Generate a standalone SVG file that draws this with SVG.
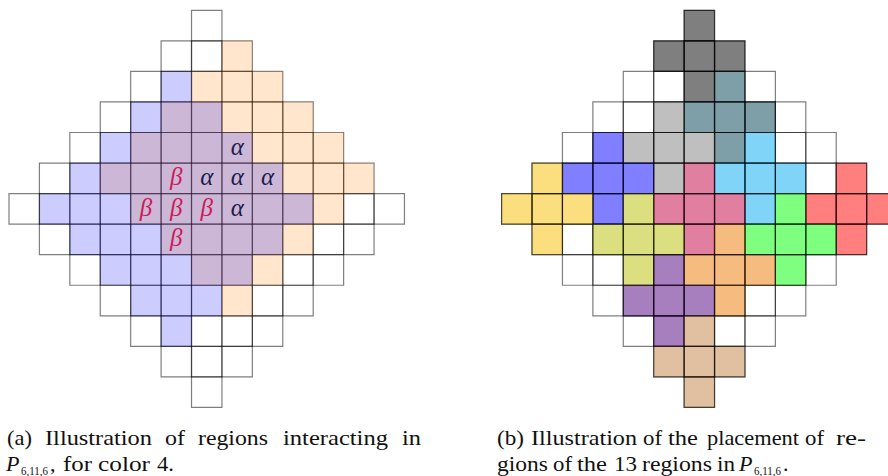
<svg xmlns="http://www.w3.org/2000/svg" xmlns:xlink="http://www.w3.org/1999/xlink" width="888" height="476" viewBox="0 0 888 476">
<style>
.cap{font-family:"Liberation Serif",serif;font-size:22px;fill:#111}
.it{font-style:italic}
.sub{font-family:"Liberation Serif",serif;font-size:13px;fill:#111}
.gr{font-family:"Liberation Serif",serif;font-style:italic;font-size:25px;text-anchor:middle}
.al{fill:#1c1c4e}
.be{fill:#cc1a5a}
</style>
<defs>
<rect id="c" width="1" height="1" fill="none" stroke="#000" stroke-opacity="0.5" stroke-width="1.2" vector-effect="non-scaling-stroke"/>
<g id="w0"><use href="#c" x="6"/></g>
<g id="w1"><use href="#w0"/><use href="#c" x="5"/><use href="#c" x="7"/></g>
<g id="w2"><use href="#w1"/><use href="#c" x="4"/><use href="#c" x="8"/></g>
<g id="w3"><use href="#w2"/><use href="#c" x="3"/><use href="#c" x="9"/></g>
<g id="w4"><use href="#w3"/><use href="#c" x="2"/><use href="#c" x="10"/></g>
<g id="w5"><use href="#w4"/><use href="#c" x="1"/><use href="#c" x="11"/></g>
<g id="w6"><use href="#w5"/><use href="#c" x="0"/><use href="#c" x="12"/></g>
<g id="grid">
<use href="#w0" y="0"/><use href="#w1" y="1"/><use href="#w2" y="2"/><use href="#w3" y="3"/><use href="#w4" y="4"/><use href="#w5" y="5"/><use href="#w6" y="6"/><use href="#w5" y="7"/><use href="#w4" y="8"/><use href="#w3" y="9"/><use href="#w2" y="10"/><use href="#w1" y="11"/><use href="#w0" y="12"/>
</g>
<polygon id="d4" points="0,-4 1,-4 1,-3 2,-3 2,-2 3,-2 3,-1 4,-1 4,0 5,0 5,1 4,1 4,2 3,2 3,3 2,3 2,4 1,4 1,5 0,5 0,4 -1,4 -1,3 -2,3 -2,2 -3,2 -3,1 -4,1 -4,0 -3,0 -3,-1 -2,-1 -2,-2 -1,-2 -1,-3 0,-3"/>
<polygon id="plus" fill-opacity="0.5" points="0,-1 1,-1 1,0 2,0 2,1 1,1 1,2 0,2 0,1 -1,1 -1,0 0,0"/>
<g id="pc"><use href="#c" x="0" y="-1"/><use href="#c" x="-1" y="0"/><use href="#c" x="0" y="0"/><use href="#c" x="1" y="0"/><use href="#c" x="0" y="1"/></g>
</defs>

<!-- (a) regions interacting -->
<g id="diagram-a" transform="translate(9,10.3) scale(30.42,30.55)">
<use href="#grid"/>
<g id="region-alpha"><use href="#d4" x="7" y="5" fill="#ff8000" fill-opacity="0.2"/></g>
<g id="region-beta"><use href="#d4" x="5" y="6" fill="#0000ff" fill-opacity="0.2"/></g>
</g>
<g id="labels-a">
<text class="gr al" x="237.2" y="154.5">α</text>
<text class="gr al" x="206.7" y="185">α</text>
<text class="gr al" x="237.2" y="185">α</text>
<text class="gr al" x="267.6" y="185">α</text>
<text class="gr al" x="237.2" y="215.6">α</text>
<text class="gr be" x="176.3" y="185">β</text>
<text class="gr be" x="145.9" y="215.6">β</text>
<text class="gr be" x="176.3" y="215.6">β</text>
<text class="gr be" x="206.7" y="215.6">β</text>
<text class="gr be" x="176.3" y="246.1">β</text>
</g>

<!-- (b) placement of the 13 regions -->
<g id="diagram-b" transform="translate(501.6,10.3) scale(30.42,30.55)">
<use href="#grid"/>
<g id="r-k"><use href="#plus" x="6" y="1" fill="#000000"/><use href="#pc" x="6" y="1"/></g>
<g id="r-t"><use href="#plus" x="7" y="3" fill="#003f51"/><use href="#pc" x="7" y="3"/></g>
<g id="r-l"><use href="#plus" x="5" y="4" fill="#7f7f7f"/><use href="#pc" x="5" y="4"/></g>
<g id="r-b"><use href="#plus" x="3" y="5" fill="#0000ff"/><use href="#pc" x="3" y="5"/></g>
<g id="r-c"><use href="#plus" x="8" y="5" fill="#00a9ef"/><use href="#pc" x="8" y="5"/></g>
<g id="r-p"><use href="#plus" x="6" y="6" fill="#c1003f"/><use href="#pc" x="6" y="6"/></g>
<g id="r-r"><use href="#plus" x="11" y="6" fill="#ff0000"/><use href="#pc" x="11" y="6"/></g>
<g id="r-y"><use href="#plus" x="1" y="6" fill="#f7bf00"/><use href="#pc" x="1" y="6"/></g>
<g id="r-o"><use href="#plus" x="4" y="7" fill="#b7bf00"/><use href="#pc" x="4" y="7"/></g>
<g id="r-g"><use href="#plus" x="9" y="7" fill="#00ff00"/><use href="#pc" x="9" y="7"/></g>
<g id="r-a"><use href="#plus" x="7" y="8" fill="#eb7700"/><use href="#pc" x="7" y="8"/></g>
<g id="r-u"><use href="#plus" x="5" y="9" fill="#51007d"/><use href="#pc" x="5" y="9"/></g>
<g id="r-n"><use href="#plus" x="6" y="11" fill="#c18141"/><use href="#pc" x="6" y="11"/></g>
</g>

<!-- captions -->
<g id="caption-a">
<text class="cap" x="7" y="445" textLength="25" lengthAdjust="spacingAndGlyphs">(a)</text>
<text class="cap" x="45" y="445" textLength="107" lengthAdjust="spacingAndGlyphs">Illustration</text>
<text class="cap" x="165" y="445" textLength="20" lengthAdjust="spacingAndGlyphs">of</text>
<text class="cap" x="198" y="445" textLength="70" lengthAdjust="spacingAndGlyphs">regions</text>
<text class="cap" x="283" y="445" textLength="105" lengthAdjust="spacingAndGlyphs">interacting</text>
<text class="cap" x="402" y="445" textLength="19" lengthAdjust="spacingAndGlyphs">in</text>
<text class="cap it" x="6" y="471">P</text>
<text class="sub" x="21" y="475" textLength="27" lengthAdjust="spacingAndGlyphs">6,11,6</text>
<text class="cap" x="50" y="471">,</text>
<text class="cap" x="63" y="471" textLength="29" lengthAdjust="spacingAndGlyphs">for</text>
<text class="cap" x="98" y="471" textLength="52" lengthAdjust="spacingAndGlyphs">color</text>
<text class="cap" x="157" y="471" textLength="17" lengthAdjust="spacingAndGlyphs">4.</text>
</g>
<g id="caption-b">
<text class="cap" x="497" y="445" textLength="27" lengthAdjust="spacingAndGlyphs">(b)</text>
<text class="cap" x="531" y="445" textLength="106" lengthAdjust="spacingAndGlyphs">Illustration</text>
<text class="cap" x="643" y="445" textLength="19" lengthAdjust="spacingAndGlyphs">of</text>
<text class="cap" x="668" y="445" textLength="30" lengthAdjust="spacingAndGlyphs">the</text>
<text class="cap" x="707" y="445" textLength="92" lengthAdjust="spacingAndGlyphs">placement</text>
<text class="cap" x="805" y="445" textLength="19" lengthAdjust="spacingAndGlyphs">of</text>
<text class="cap" x="836" y="445" textLength="30" lengthAdjust="spacingAndGlyphs">re-</text>
<text class="cap" x="497" y="471" textLength="51" lengthAdjust="spacingAndGlyphs">gions</text>
<text class="cap" x="553" y="471" textLength="19" lengthAdjust="spacingAndGlyphs">of</text>
<text class="cap" x="577" y="471" textLength="30" lengthAdjust="spacingAndGlyphs">the</text>
<text class="cap" x="614" y="471" textLength="23" lengthAdjust="spacingAndGlyphs">13</text>
<text class="cap" x="642" y="471" textLength="70" lengthAdjust="spacingAndGlyphs">regions</text>
<text class="cap" x="717" y="471" textLength="18" lengthAdjust="spacingAndGlyphs">in</text>
<text class="cap it" x="739" y="471">P</text>
<text class="sub" x="754" y="475" textLength="27" lengthAdjust="spacingAndGlyphs">6,11,6</text>
<text class="cap" x="783" y="471">.</text>
</g>
</svg>
